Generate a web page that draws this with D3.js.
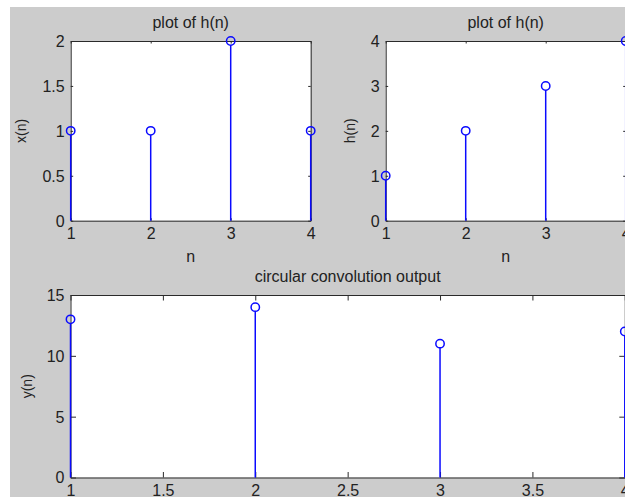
<!DOCTYPE html>
<html>
<head>
<meta charset="utf-8">
<script src="https://cdn.jsdelivr.net/npm/d3@7"></script>
<style>
  html, body { margin: 0; padding: 0; background: #ffffff; }
  svg { display: block; }
  text { font-family: "Liberation Sans", Arial, sans-serif; fill: #222222; }
</style>
</head>
<body>
<svg id="fig" width="625" height="497"></svg>
<script>
// Sample index shared by all three stem plots
const n = [1, 2, 3, 4];

// Input sequence x(n), impulse response h(n), circular convolution y(n)
const xValues = [1, 1, 2, 1];
const hValues = [1, 2, 3, 4];
const yValues = [13, 14, 11, 12];

// Tick values for each axis
const nTicksTop = [1, 2, 3, 4];
const xTicks = [0, 0.5, 1, 1.5, 2];
const hTicks = [0, 1, 2, 3, 4];
const nTicksBottom = [1, 1.5, 2, 2.5, 3, 3.5, 4];
const yTicks = [0, 5, 10, 15];

// Titles and axis labels
const titles = ["plot of h(n)", "plot of h(n)", "circular convolution output"];
const yLabels = ["x(n)", "h(n)", "y(n)"];
const xLabel = "n";

const svg = d3.select("#fig");
const FONT = 16;
const STEM = "#0a0aff";
const AXIS = "#2a2a2a";

// figure background (grey window area)
svg.append("rect")
  .attr("x", 10).attr("y", 7)
  .attr("width", 615).attr("height", 490)
  .attr("fill", "#cccccc");

function stemPlot(cfg) {
  const { left, right, top, bottom, xDomain, yDomain, xTickVals, yTickVals,
          values, title, ylabel, showXLabel, tickLen, ylabelX } = cfg;

  const x = d3.scaleLinear().domain(xDomain).range([left, right]);
  const y = d3.scaleLinear().domain(yDomain).range([bottom, top]);

  const g = svg.append("g");

  // plot area
  g.append("rect")
    .attr("x", left).attr("y", top)
    .attr("width", right - left).attr("height", bottom - top)
    .attr("fill", "#ffffff");

  const fmt = d3.format("");
  const style = sel => {
    sel.selectAll(".domain").attr("stroke", AXIS).attr("stroke-width", 1);
    sel.selectAll(".tick line").attr("stroke", AXIS).attr("stroke-width", 1);
    sel.selectAll("text").attr("font-size", FONT).attr("font-family", null).attr("fill", "#222222");
  };

  // bottom axis with labels
  g.append("g").attr("transform", `translate(0,${bottom})`)
    .call(d3.axisBottom(x).tickValues(xTickVals).tickFormat(fmt)
      .tickSize(-tickLen).tickSizeOuter(0).tickPadding(7))
    .call(style);

  // top axis, ticks only
  g.append("g").attr("transform", `translate(0,${top})`)
    .call(d3.axisTop(x).tickValues(xTickVals).tickFormat("")
      .tickSize(-tickLen).tickSizeOuter(0))
    .call(style);

  // left axis with labels
  g.append("g").attr("transform", `translate(${left},0)`)
    .call(d3.axisLeft(y).tickValues(yTickVals).tickFormat(fmt)
      .tickSize(-tickLen).tickSizeOuter(0).tickPadding(6))
    .call(style)
    .selectAll("text").attr("dy", "0.34em");

  // right axis, ticks only
  g.append("g").attr("transform", `translate(${right},0)`)
    .call(d3.axisRight(y).tickValues(yTickVals).tickFormat("")
      .tickSize(-tickLen).tickSizeOuter(0))
    .call(style);

  // stems
  const r = 4.2;
  g.selectAll(".stem").data(values).enter().append("line")
    .attr("class", "stem")
    .attr("x1", (d, i) => x(n[i])).attr("x2", (d, i) => x(n[i]))
    .attr("y1", y(0)).attr("y2", d => y(d) + r)
    .attr("stroke", STEM).attr("stroke-width", 1.5);

  g.selectAll(".mk").data(values).enter().append("circle")
    .attr("class", "mk")
    .attr("cx", (d, i) => x(n[i])).attr("cy", d => y(d))
    .attr("r", r)
    .attr("fill", "none").attr("stroke", STEM).attr("stroke-width", 1.5);

  // title
  g.append("text")
    .attr("x", (left + right) / 2).attr("y", top - 13)
    .attr("text-anchor", "middle").attr("font-size", FONT)
    .text(title);

  // x label
  if (showXLabel) {
    g.append("text")
      .attr("x", (left + right) / 2).attr("y", bottom + 41)
      .attr("text-anchor", "middle").attr("font-size", FONT)
      .text(xLabel);
  }

  // y label
  g.append("text")
    .attr("transform", `translate(${ylabelX},${(top + bottom) / 2}) rotate(-90)`)
    .attr("text-anchor", "middle").attr("font-size", 14)
    .text(ylabel);
}

stemPlot({
  left: 70.7, right: 310.7, top: 41, bottom: 220.7,
  xDomain: [1, 4], yDomain: [0, 2],
  xTickVals: nTicksTop, yTickVals: xTicks,
  values: xValues, title: titles[0], ylabel: yLabels[0],
  showXLabel: true, tickLen: 2.5, ylabelX: 25.5
});

stemPlot({
  left: 385.7, right: 625.7, top: 41, bottom: 220.7,
  xDomain: [1, 4], yDomain: [0, 4],
  xTickVals: nTicksTop, yTickVals: hTicks,
  values: hValues, title: titles[1], ylabel: yLabels[1],
  showXLabel: true, tickLen: 2.5, ylabelX: 354.5
});

stemPlot({
  left: 70.5, right: 624.8, top: 295, bottom: 477.5,
  xDomain: [1, 4], yDomain: [0, 15],
  xTickVals: nTicksBottom, yTickVals: yTicks,
  values: yValues, title: titles[2], ylabel: yLabels[2],
  showXLabel: false, tickLen: 5.5, ylabelX: 32
});
</script>
</body>
</html>
